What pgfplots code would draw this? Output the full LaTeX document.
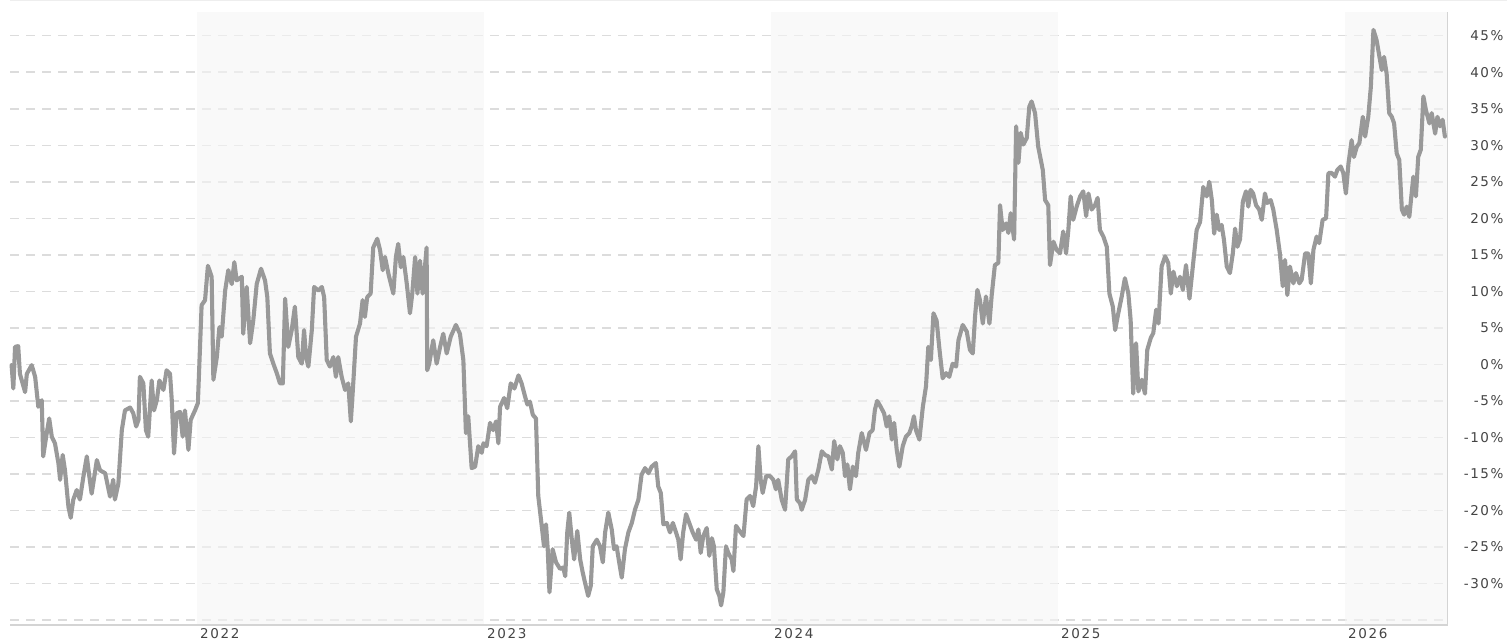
\documentclass[border=0pt]{standalone}
\usepackage{fontspec}
\setmainfont[LetterSpace=12]{DejaVu Sans}
\usepackage{pgfplots}
\pgfplotsset{compat=1.18}
\definecolor{linegray}{HTML}{999999}
\definecolor{gridgray}{HTML}{DCDCDC}
\definecolor{bandgray}{HTML}{F5F5F5}
\definecolor{axisgray}{HTML}{D4D4D4}
\definecolor{topgray}{HTML}{EEEEEE}
\definecolor{labelgray}{HTML}{444444}
\begin{document}
\begin{tikzpicture}
\begin{axis}[
  scale only axis, width=1437.7pt, height=613pt,
  xmin=2021.3484, xmax=2026.3578, ymin=-35.68, ymax=48.25,
  axis line style={draw=none},
  clip=false,
  major tick length=0pt,
  xtick={2022,2023,2024,2025,2026},
  xticklabels={2022,2023,2024,2025,2026},
  xticklabel style={anchor=north west, inner sep=0pt, xshift=3pt, yshift=-3pt, font=\fontsize{13.5}{14}\selectfont, text=labelgray},
  ytick={-35,-30,...,45},
  yticklabels={,-30\%,-25\%,-20\%,-15\%,-10\%,-5\%,0\%,5\%,10\%,15\%,20\%,25\%,30\%,35\%,40\%,45\%},
  yticklabel pos=right,
  yticklabel style={anchor=east, inner sep=0pt, xshift=56pt, font=\fontsize{13.5}{14}\selectfont, text=labelgray},
  ymajorgrids,
  major grid style={draw=gridgray, line width=1.5pt, dash pattern=on 9.3pt off 6.7pt},
]
\fill[bandgray, fill opacity=0.6] (axis cs:2022,-35.68) rectangle (axis cs:2023,48.25);
\fill[bandgray, fill opacity=0.6] (axis cs:2024,-35.68) rectangle (axis cs:2025,48.25);
\fill[bandgray, fill opacity=0.6] (axis cs:2026,-35.68) rectangle (axis cs:2026.3578,48.25);
\draw[axisgray, line width=1.5pt] (rel axis cs:0,0) -- (rel axis cs:1,0) -- (rel axis cs:1,1);
\draw[topgray, line width=1pt] (rel axis cs:0,1.0188) -- (rel axis cs:1.0412,1.0188);
\addplot[linegray, line width=4.1pt, line join=round, line cap=round, no marks] table {
2021.354 -0.1
2021.360 -3.3
2021.366 2.4
2021.377 2.5
2021.383 -1.3
2021.401 -3.8
2021.407 -1.3
2021.424 -0.1
2021.436 -1.7
2021.447 -5.8
2021.459 -4.9
2021.464 -12.6
2021.476 -9.5
2021.485 -7.4
2021.494 -9.9
2021.505 -10.8
2021.517 -13.5
2021.523 -15.8
2021.532 -12.4
2021.540 -14.5
2021.552 -19.5
2021.560 -21.0
2021.569 -18.5
2021.581 -17.2
2021.592 -18.5
2021.604 -15.4
2021.616 -12.6
2021.625 -15.4
2021.633 -17.7
2021.651 -13.1
2021.662 -14.5
2021.680 -14.9
2021.697 -18.1
2021.708 -15.8
2021.714 -18.5
2021.726 -16.3
2021.738 -9.0
2021.749 -6.3
2021.767 -5.9
2021.778 -6.7
2021.788 -8.5
2021.796 -7.6
2021.801 -1.7
2021.813 -2.6
2021.822 -9.0
2021.830 -9.9
2021.842 -2.2
2021.850 -6.3
2021.860 -4.9
2021.869 -2.2
2021.883 -3.5
2021.894 -0.8
2021.906 -1.3
2021.912 -4.9
2021.920 -12.2
2021.929 -6.7
2021.941 -6.5
2021.950 -9.9
2021.958 -6.3
2021.970 -11.7
2021.978 -7.6
2021.993 -6.3
2022.003 -5.3
2022.016 8.1
2022.028 8.8
2022.038 13.5
2022.051 12.0
2022.057 -2.1
2022.069 1.0
2022.078 5.1
2022.086 3.8
2022.098 10.1
2022.109 12.9
2022.121 11.0
2022.130 14.0
2022.138 11.5
2022.156 12.0
2022.161 4.2
2022.173 10.6
2022.185 2.9
2022.196 6.0
2022.208 11.0
2022.223 13.1
2022.237 11.5
2022.245 9.2
2022.254 1.5
2022.266 0.1
2022.278 -1.2
2022.289 -2.6
2022.299 -2.6
2022.307 9.0
2022.318 2.4
2022.330 4.7
2022.341 7.9
2022.353 1.0
2022.365 0.1
2022.373 4.7
2022.380 1.0
2022.388 -0.3
2022.400 4.7
2022.408 10.6
2022.423 10.1
2022.435 10.6
2022.443 9.2
2022.452 0.6
2022.463 -0.3
2022.475 1.0
2022.484 -1.7
2022.492 1.0
2022.504 -1.7
2022.516 -3.5
2022.527 -2.6
2022.536 -7.8
2022.543 -3.5
2022.554 3.8
2022.568 5.6
2022.577 8.8
2022.585 6.5
2022.593 9.2
2022.605 9.7
2022.614 16.0
2022.628 17.2
2022.638 15.6
2022.647 12.9
2022.655 14.7
2022.667 12.4
2022.684 9.7
2022.693 14.7
2022.701 16.5
2022.710 13.3
2022.719 14.7
2022.731 11.0
2022.742 7.0
2022.750 9.7
2022.760 14.7
2022.768 9.7
2022.777 14.2
2022.786 9.7
2022.800 16.0
2022.802 -0.8
2022.809 0.1
2022.823 3.3
2022.835 0.1
2022.847 2.4
2022.858 4.2
2022.870 1.5
2022.884 3.8
2022.902 5.4
2022.916 4.2
2022.928 0.6
2022.937 -9.4
2022.945 -7.1
2022.957 -14.2
2022.969 -14.0
2022.980 -11.2
2022.992 -12.1
2022.998 -10.8
2023.009 -11.2
2023.021 -8.0
2023.032 -9.0
2023.042 -7.8
2023.050 -10.8
2023.056 -5.8
2023.070 -4.6
2023.081 -6.0
2023.093 -2.6
2023.106 -3.3
2023.120 -1.5
2023.131 -2.6
2023.143 -4.4
2023.151 -5.5
2023.160 -5.1
2023.170 -6.9
2023.181 -7.4
2023.189 -18.0
2023.201 -22.1
2023.209 -24.9
2023.216 -21.9
2023.222 -25.3
2023.228 -31.2
2023.239 -25.3
2023.251 -27.1
2023.265 -28.0
2023.276 -27.8
2023.283 -29.0
2023.290 -23.0
2023.297 -20.3
2023.306 -24.0
2023.314 -26.7
2023.325 -22.8
2023.335 -26.7
2023.344 -28.5
2023.352 -29.9
2023.363 -31.7
2023.372 -30.3
2023.379 -24.9
2023.393 -24.0
2023.404 -24.9
2023.414 -27.1
2023.422 -23.0
2023.433 -20.3
2023.445 -22.6
2023.453 -25.3
2023.462 -24.9
2023.471 -27.1
2023.480 -29.2
2023.491 -25.3
2023.503 -23.0
2023.515 -21.7
2023.526 -19.9
2023.538 -18.5
2023.549 -15.1
2023.561 -14.2
2023.573 -14.9
2023.584 -14.0
2023.599 -13.5
2023.607 -16.7
2023.616 -17.6
2023.625 -21.9
2023.637 -21.7
2023.648 -23.0
2023.658 -21.7
2023.669 -23.0
2023.677 -24.0
2023.685 -26.7
2023.694 -23.0
2023.704 -20.5
2023.715 -21.7
2023.727 -23.0
2023.739 -24.0
2023.747 -22.6
2023.755 -25.8
2023.764 -23.5
2023.776 -22.4
2023.785 -26.2
2023.794 -23.8
2023.801 -24.9
2023.811 -30.8
2023.820 -31.7
2023.826 -33.0
2023.834 -31.2
2023.843 -24.9
2023.851 -25.8
2023.863 -26.7
2023.869 -28.3
2023.878 -22.1
2023.890 -22.8
2023.904 -23.5
2023.915 -18.5
2023.927 -18.0
2023.938 -19.4
2023.948 -16.7
2023.956 -11.2
2023.964 -15.8
2023.971 -17.6
2023.983 -15.3
2023.997 -15.3
2024.008 -15.8
2024.017 -17.1
2024.025 -15.8
2024.037 -18.5
2024.049 -19.9
2024.060 -13.0
2024.072 -12.6
2024.084 -11.9
2024.090 -18.5
2024.101 -19.0
2024.107 -19.9
2024.119 -18.5
2024.130 -15.8
2024.142 -15.3
2024.153 -16.2
2024.165 -14.4
2024.177 -11.9
2024.188 -12.4
2024.200 -12.6
2024.212 -14.4
2024.220 -10.5
2024.231 -13.0
2024.240 -11.2
2024.250 -12.1
2024.258 -15.3
2024.266 -13.7
2024.275 -17.1
2024.285 -14.0
2024.296 -15.3
2024.304 -12.1
2024.316 -9.4
2024.331 -11.7
2024.343 -9.4
2024.354 -9.0
2024.362 -6.2
2024.370 -5.0
2024.382 -5.8
2024.394 -6.7
2024.403 -8.5
2024.412 -7.1
2024.421 -10.3
2024.429 -8.0
2024.438 -11.7
2024.447 -14.0
2024.459 -11.2
2024.470 -9.9
2024.482 -9.4
2024.490 -8.5
2024.498 -7.1
2024.505 -9.0
2024.517 -10.3
2024.529 -5.8
2024.540 -3.0
2024.548 2.4
2024.557 0.6
2024.566 7.0
2024.577 6.0
2024.586 2.4
2024.598 -1.9
2024.610 -1.2
2024.621 -1.7
2024.633 0.1
2024.645 -0.3
2024.653 3.3
2024.668 5.4
2024.682 4.5
2024.693 2.0
2024.703 1.5
2024.711 6.6
2024.719 10.2
2024.728 8.8
2024.738 5.6
2024.749 9.3
2024.761 5.6
2024.769 9.5
2024.780 13.6
2024.792 13.9
2024.798 21.8
2024.807 18.4
2024.819 19.3
2024.827 18.0
2024.835 20.7
2024.847 17.1
2024.854 32.6
2024.862 27.6
2024.870 31.7
2024.879 30.1
2024.891 31.0
2024.900 35.3
2024.908 36.0
2024.920 34.4
2024.931 29.8
2024.947 26.6
2024.955 22.5
2024.966 21.8
2024.972 13.6
2024.984 16.8
2024.995 15.7
2025.007 15.2
2025.018 18.2
2025.028 15.2
2025.036 18.4
2025.044 23.0
2025.053 19.8
2025.065 21.6
2025.077 23.0
2025.088 23.7
2025.098 20.3
2025.106 23.4
2025.117 21.2
2025.129 21.8
2025.138 22.8
2025.146 18.4
2025.158 17.5
2025.170 16.1
2025.179 9.7
2025.191 7.9
2025.199 4.7
2025.210 7.0
2025.222 9.3
2025.233 11.8
2025.245 9.7
2025.253 6.1
2025.262 -4.0
2025.272 2.9
2025.280 -3.7
2025.292 -2.1
2025.303 -4.0
2025.311 2.0
2025.323 3.6
2025.332 4.3
2025.342 7.5
2025.350 5.6
2025.361 13.4
2025.373 14.8
2025.384 13.9
2025.393 9.7
2025.402 12.7
2025.414 10.7
2025.425 12.0
2025.435 10.2
2025.446 13.6
2025.458 9.0
2025.471 13.9
2025.483 18.4
2025.495 19.5
2025.506 24.3
2025.518 23.0
2025.527 25.0
2025.536 22.5
2025.544 17.9
2025.553 20.5
2025.562 18.4
2025.570 19.1
2025.578 17.1
2025.588 13.4
2025.599 12.5
2025.609 15.2
2025.617 18.6
2025.625 16.1
2025.634 17.1
2025.644 22.3
2025.655 23.7
2025.663 21.6
2025.671 23.9
2025.680 23.4
2025.690 21.8
2025.701 21.2
2025.710 19.8
2025.721 23.4
2025.729 22.1
2025.741 22.5
2025.750 21.2
2025.762 18.4
2025.773 15.2
2025.783 10.7
2025.791 14.3
2025.799 9.5
2025.808 13.4
2025.820 11.1
2025.829 12.5
2025.841 11.1
2025.849 11.6
2025.861 15.2
2025.872 15.2
2025.881 11.1
2025.890 15.7
2025.901 17.5
2025.910 16.6
2025.922 19.8
2025.934 20.0
2025.942 26.2
2025.954 26.2
2025.965 25.7
2025.973 26.6
2025.985 27.1
2025.994 26.2
2026.003 23.4
2026.012 27.5
2026.023 30.7
2026.031 28.4
2026.041 29.8
2026.050 30.3
2026.062 33.9
2026.070 31.2
2026.081 33.9
2026.090 38.0
2026.099 45.8
2026.110 44.4
2026.120 42.1
2026.128 40.3
2026.136 42.1
2026.145 39.8
2026.154 34.4
2026.163 33.9
2026.171 33.0
2026.180 28.9
2026.189 28.0
2026.198 21.2
2026.206 20.5
2026.215 21.6
2026.224 20.2
2026.232 23.4
2026.238 25.7
2026.247 23.0
2026.255 28.4
2026.264 29.4
2026.273 36.7
2026.282 34.8
2026.294 33.0
2026.302 34.4
2026.314 31.6
2026.322 33.9
2026.331 32.6
2026.340 33.5
2026.348 31.2
};
\coordinate (BL) at (rel axis cs:-0.006956,-0.022838);
\coordinate (TR) at (rel axis cs:1.041246,1.019576);
\end{axis}
\pgfresetboundingbox
\path[use as bounding box] (BL) rectangle (TR);
\end{tikzpicture}
\end{document}
